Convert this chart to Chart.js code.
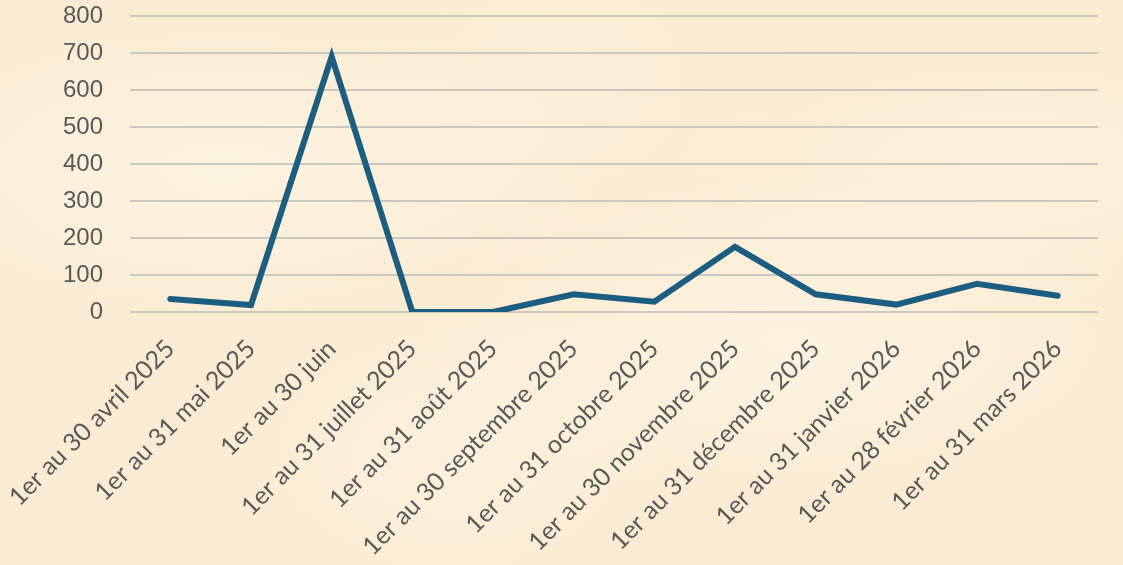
<!DOCTYPE html>
<html lang="fr">
<head>
    <meta charset="UTF-8">
    <title>Graphique mensuel</title>
    <script src="https://cdn.jsdelivr.net/npm/chart.js"></script>
    <style>
        html, body {
            margin: 0;
            padding: 0;
            width: 1123px;
            height: 565px;
            overflow: hidden;
        }
        body {
            background-color: #faecd2;
            /* rough parchment look */
            background-image:
                radial-gradient(ellipse at 20% 30%, rgba(255,250,238,0.5) 0%, rgba(255,250,238,0) 30%),
                radial-gradient(ellipse at 70% 60%, rgba(255,250,238,0.45) 0%, rgba(255,250,238,0) 35%),
                radial-gradient(ellipse at 40% 80%, rgba(255,248,232,0.4) 0%, rgba(255,248,232,0) 25%),
                radial-gradient(ellipse at 90% 30%, rgba(255,248,232,0.4) 0%, rgba(255,248,232,0) 25%),
                radial-gradient(ellipse at 50% 15%, rgba(252,242,222,0.45) 0%, rgba(252,242,222,0) 30%);
        }
        .wrap {
            position: relative;
            width: 1123px;
            height: 565px;
        }
    </style>
</head>
<body>
    <div class="wrap">
        <canvas id="chart"></canvas>
    </div>

    <script>
        // data
        const periods = [
            '1er au 30 avril 2025',
            '1er au 31 mai 2025',
            '1er au 30 juin',
            '1er au 31 juillet 2025',
            '1er au 31 août 2025',
            '1er au 30 septembre 2025',
            '1er au 31 octobre 2025',
            '1er au 30 novembre 2025',
            '1er au 31 décembre 2025',
            '1er au 31 janvier 2026',
            '1er au 28 février 2026',
            '1er au 31 mars 2026'
        ]
        const counts = [35, 19, 690, 0, 0, 48, 28, 176, 48, 20, 76, 44]
        const yTicks = [0, 100, 200, 300, 400, 500, 600, 700, 800]

        const textColor = '#595959'
        const gridColor = '#cbc7c1'

        let ctx = document.getElementById('chart').getContext('2d')
        let chart = new Chart(ctx, {
            type: 'line',
            data: {
                labels: periods,
                datasets: [{
                    data: counts,
                    borderColor: '#1b5e80',
                    borderWidth: 6,
                    pointRadius: 0,
                    tension: 0,
                    fill: false,
                    borderJoinStyle: 'miter',
                    borderCapStyle: 'round'
                }]
            },
            options: {
                responsive: true,
                maintainAspectRatio: false,
                animation: false,
                layout: {padding: {top: 16, right: 25, left: 0, bottom: 0}},
                plugins: {
                    legend: {display: false},
                    tooltip: {enabled: false}
                },
                scales: {
                    x: {
                        offset: true,
                        grid: {display: false, drawTicks: false},
                        border: {display: false},
                        ticks: {
                            color: textColor,
                            font: {family: 'Lato', size: 25},
                            minRotation: 45,
                            maxRotation: 45,
                            autoSkip: false,
                            padding: 22
                        },
                        afterFit: function(scale) {
                            scale.height = 253
                            // labels may spill left, like the original
                            scale.paddingLeft = 0
                            scale.paddingRight = 0
                        }
                    },
                    y: {
                        min: 0,
                        max: 800,
                        afterBuildTicks: function(scale) {
                            scale.ticks = yTicks.map(v => ({value: v}))
                        },
                        grid: {color: gridColor, lineWidth: 2, drawTicks: false},
                        border: {display: false},
                        ticks: {
                            color: textColor,
                            font: {family: 'Liberation Sans', size: 24},
                            padding: 27
                        },
                        afterFit: function(scale) {
                            scale.width = 130
                            scale.paddingTop = 0
                            scale.paddingBottom = 0
                        }
                    }
                }
            }
        })
    </script>
</body>
</html>
